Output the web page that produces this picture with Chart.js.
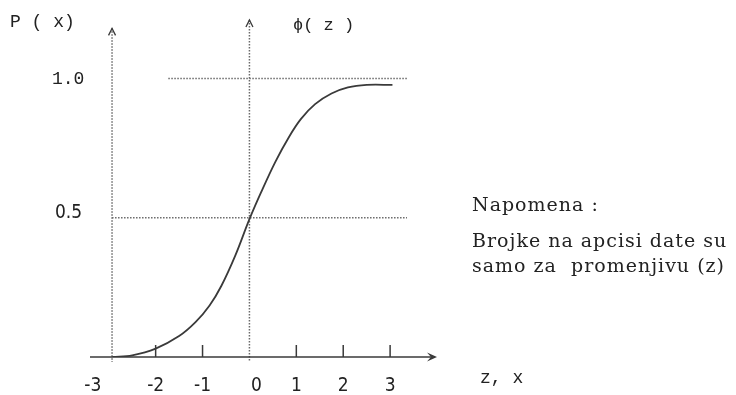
<!DOCTYPE html>
<html>
<head>
<meta charset="utf-8">
<title>P(x) - phi(z)</title>
<script src="https://cdn.jsdelivr.net/npm/chart.js@4.4.1/dist/chart.umd.min.js"></script>
<style>
  html, body { margin: 0; padding: 0; background: #fff; }
  #wrap { width: 736px; height: 395px; }
</style>
</head>
<body>
<div id="wrap"><canvas id="cdfChart" width="736" height="395"></canvas></div>
<script>
// Vrijednosti ocitane sa slike (z i phi(z))
const zValues = [-2.92, -2.5, -2.0, -1.5, -1.15, -0.85, -0.6, -0.3, 0, 0.25, 0.55, 0.85, 1.1, 1.4, 1.75, 2.1, 2.5, 3.05];
const pValues = [0, 0.006, 0.03, 0.075, 0.125, 0.185, 0.255, 0.365, 0.495, 0.592, 0.7, 0.792, 0.855, 0.908, 0.946, 0.968, 0.977, 0.977];

// Oznake na osama
const xTicks = [-3, -2, -1, 0, 1, 2, 3];
const xTickLabels = ["-3", "-2", "-1", "0", "1", "2", "3"];
const yTicks = [0.5, 1.0];
const yTickLabels = ["0.5", "1.0"];

// Tekstovi
const yAxisTitle = "P ( x)";
const zAxisTitle = "\u03D5( z )";
const xAxisTitle = "z, x";
const noteLines = ["Napomena :", "Brojke na apcisi date su", "samo za  promenjivu (z)"];

const LINE = "#3a3a3a";
const DOT = "#6a6a6a";
const NARROW = '"Liberation Sans Narrow", "DejaVu Sans Condensed", "Liberation Sans", sans-serif';
const MONO = '"Liberation Mono", "DejaVu Sans Mono", monospace';
const SERIF = '"DejaVu Serif", "Liberation Serif", serif';

// Crta ose, tackaste linije i tekst preko skala grafikona
const axesPlugin = {
  id: "axesPlugin",
  beforeDatasetsDraw(chart) {
    const ctx = chart.ctx;
    const x = chart.scales.x;
    const y = chart.scales.y;
    const px = (v) => x.getPixelForValue(v);
    const py = (v) => y.getPixelForValue(v);

    ctx.save();

    // tackaste linije
    ctx.strokeStyle = DOT;
    ctx.lineWidth = 1.5;
    ctx.setLineDash([1.5, 1.5]);
    const dotted = (x1, y1, x2, y2) => {
      ctx.beginPath();
      ctx.moveTo(x1, y1);
      ctx.lineTo(x2, y2);
      ctx.stroke();
    };
    dotted(px(-2.93), py(1.18), px(-2.93), py(-0.018)); // osa P(x)
    dotted(px(0), py(1.21), px(0), py(-0.018)); // osa phi(z)
    dotted(px(-1.73), py(yTicks[1]), px(3.36), py(yTicks[1]));
    dotted(px(-2.93), py(yTicks[0]), px(3.36), py(yTicks[0]));
    ctx.setLineDash([]);

    // strelice na vertikalnim osama
    ctx.lineWidth = 1.3;
    ctx.strokeStyle = LINE;
    [[-2.93, 1.18], [0, 1.21]].forEach(([zv, pv]) => {
      const ax = px(zv), ay = py(pv);
      ctx.beginPath();
      ctx.moveTo(ax - 3.5, ay + 7);
      ctx.lineTo(ax, ay);
      ctx.lineTo(ax + 3.5, ay + 7);
      ctx.stroke();
    });

    // horizontalna osa sa strelicom
    const y0 = py(0);
    const xEnd = x.right;
    ctx.lineWidth = 1.6;
    ctx.beginPath();
    ctx.moveTo(x.left, y0);
    ctx.lineTo(xEnd - 2, y0);
    ctx.stroke();
    ctx.fillStyle = LINE;
    ctx.beginPath();
    ctx.moveTo(xEnd, y0);
    ctx.lineTo(xEnd - 10, y0 - 4.5);
    ctx.lineTo(xEnd - 6, y0);
    ctx.lineTo(xEnd - 10, y0 + 4.5);
    ctx.closePath();
    ctx.fill();

    // crtice na x osi
    ctx.lineWidth = 1.5;
    xTicks.forEach((t) => {
      if (t === 0 || t === -3) return;
      ctx.beginPath();
      ctx.moveTo(px(t), y0);
      ctx.lineTo(px(t), y0 - 12);
      ctx.stroke();
    });

    ctx.restore();
  },
  afterDraw(chart) {
    const ctx = chart.ctx;
    const x = chart.scales.x;
    const y = chart.scales.y;
    const px = (v) => x.getPixelForValue(v);
    const py = (v) => y.getPixelForValue(v);

    ctx.save();
    ctx.fillStyle = "#222";

    // oznake na x osi
    ctx.font = "19px " + NARROW;
    ctx.textAlign = "center";
    ctx.textBaseline = "middle";
    const nudge = { "-3": -16, "0": 7 };
    xTicks.forEach((t, i) => {
      ctx.fillText(xTickLabels[i], px(t) + (nudge[xTickLabels[i]] || 0), py(0) + 29);
    });

    // oznake na y osi
    ctx.textAlign = "left";
    ctx.fillText(yTickLabels[0], 55, py(yTicks[0]) - 5);
    ctx.font = "18px " + MONO;
    ctx.fillText(yTickLabels[1], 52, py(yTicks[1]) + 1);

    // nazivi osa
    ctx.fillText(yAxisTitle, 10, 22);
    ctx.font = "17px " + MONO;
    ctx.fillText(zAxisTitle, 293, 25);
    ctx.font = "18px " + MONO;
    ctx.fillText(xAxisTitle, 480, 378);

    // napomena
    ctx.font = "19px " + SERIF;
    ctx.letterSpacing = "1px";
    ctx.textBaseline = "alphabetic";
    ctx.fillText(noteLines[0], 472, 211);
    ctx.fillText(noteLines[1], 472, 247);
    ctx.fillText(noteLines[2], 472, 272);

    ctx.restore();
  },
};

window.onload = () => {
  const ctx = document.getElementById("cdfChart").getContext("2d");

  new Chart(ctx, {
    type: "line",
    data: {
      datasets: [
        {
          label: "phi(z)",
          data: zValues.map((z, i) => ({ x: z, y: pValues[i] })),
          borderColor: LINE,
          borderWidth: 1.8,
          pointRadius: 0,
          fill: false,
          tension: 0.35,
        },
      ],
    },
    options: {
      responsive: false,
      animation: false,
      layout: {
        padding: { left: 90, right: 299, top: 20, bottom: 38 },
      },
      plugins: {
        legend: { display: false },
        tooltip: { enabled: false },
      },
      scales: {
        x: { type: "linear", min: -3.4, max: 4.0, display: false },
        y: { type: "linear", min: 0, max: 1.21, display: false },
      },
    },
    plugins: [axesPlugin],
  });
};
</script>
</body>
</html>
